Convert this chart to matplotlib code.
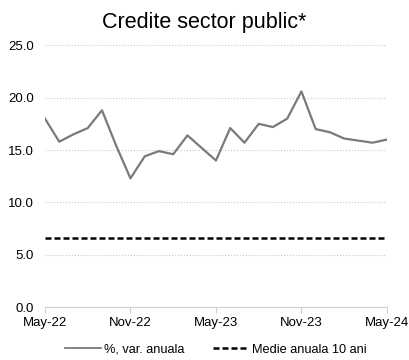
import numpy as np
import matplotlib.pyplot as plt

plt.rcParams['font.family'] = ['Liberation Sans', 'DejaVu Sans']

# lunile (May-22 .. May-24)
luni = ['May-22', 'Jun-22', 'Jul-22', 'Aug-22', 'Sep-22', 'Oct-22', 'Nov-22', 'Dec-22',
        'Jan-23', 'Feb-23', 'Mar-23', 'Apr-23', 'May-23', 'Jun-23', 'Jul-23', 'Aug-23',
        'Sep-23', 'Oct-23', 'Nov-23', 'Dec-23', 'Jan-24', 'Feb-24', 'Mar-24', 'Apr-24', 'May-24']
var_anuala = [18.0, 15.8, 16.5, 17.1, 18.8, 15.4, 12.3, 14.4, 14.9, 14.6, 16.4, 15.2,
              14.0, 17.1, 15.7, 17.5, 17.2, 18.0, 20.6, 17.0, 16.7, 16.1, 15.9, 15.7, 16.0]
medie_10ani = 6.6

x = np.arange(len(luni))

fig = plt.figure(figsize=(4.09, 3.6), dpi=100)
ax = fig.add_axes([0.110, 0.147, 0.836, 0.727])

ax.plot(x, var_anuala, color='#7a7a7a', linewidth=1.6, label='%, var. anuala')
ax.plot(x, [medie_10ani] * len(x), color='black', linewidth=1.8, linestyle=(0, (2.4, 1.2)),
        label='Medie anuala 10 ani')

ax.set_xlim(0, len(x) - 1)
ax.set_ylim(0, 25)
ax.set_yticks([0, 5, 10, 15, 20, 25])
ax.set_yticklabels([f'{v:.1f}' for v in [0, 5, 10, 15, 20, 25]])
ax.set_xticks(x[::6])
ax.set_xticklabels([luni[i] for i in x[::6]])
ax.grid(axis='y', linestyle=':', color='#c8c8c8', linewidth=0.8)
ax.set_axisbelow(True)

for s in ['top', 'right', 'left']:
    ax.spines[s].set_visible(False)
ax.spines['bottom'].set_color('#d0d0d0')
ax.tick_params(axis='y', length=0, labelsize=9.5, pad=8)
ax.tick_params(axis='x', length=4, color='#d0d0d0', labelsize=9.5, pad=3)

# titlu centrat pe figura
fig.text(0.5, 0.938, 'Credite sector public*', fontsize=15.5, ha='center', va='center')

leg = ax.legend(loc='center', ncol=2, frameon=False, fontsize=9.2,
                bbox_to_anchor=(0.5, -0.163), handlelength=2.8, columnspacing=2.2,
                handletextpad=0.3)
leg.get_lines()[0].set_linewidth(1.3)

plt.savefig('out.png', dpi=100)
